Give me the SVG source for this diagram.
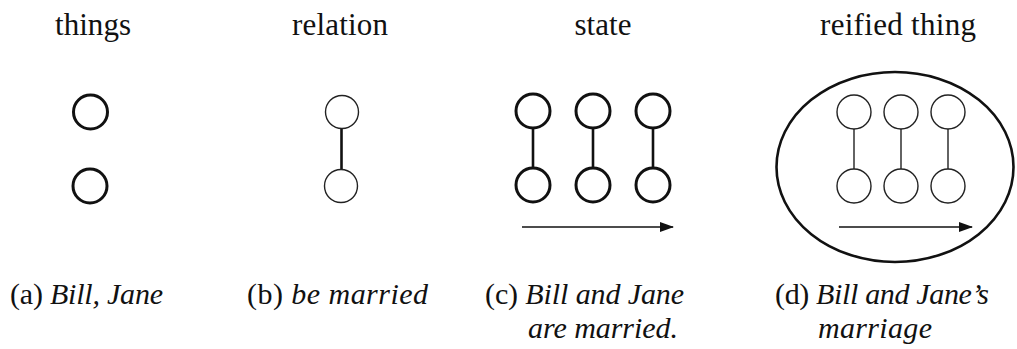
<svg xmlns="http://www.w3.org/2000/svg" width="1017" height="349" viewBox="0 0 1017 349">
<style>
text{font-family:"Liberation Serif","Times New Roman",serif;fill:#111;font-size:30px}
.t{text-anchor:middle;font-size:31px}
.i{font-style:italic}
.thick{fill:none;stroke:#111;stroke-width:3}
.thin{fill:none;stroke:#222;stroke-width:1.4}
.lk{stroke:#111;stroke-width:2.6}
.lt{stroke:#222;stroke-width:1.4}
.ar{stroke:#111;stroke-width:1.6;fill:none}
</style>
<defs>
<marker id="ah" markerWidth="14" markerHeight="10" refX="13" refY="5" orient="auto" markerUnits="userSpaceOnUse">
<path d="M0,0 L14,5 L0,10 Z" fill="#111"/>
</marker>
</defs>
<rect width="1017" height="349" fill="#fff"/>
<g id="titles">
<text class="t" x="93" y="35" textLength="76" lengthAdjust="spacing">things</text>
<text class="t" x="340" y="35" textLength="96" lengthAdjust="spacing">relation</text>
<text class="t" x="603" y="35" textLength="57" lengthAdjust="spacing">state</text>
<text class="t" x="898" y="35" textLength="156" lengthAdjust="spacing">reified thing</text>
</g>
<g id="connectors">
<line class="lk" x1="341.5" y1="129" x2="341.5" y2="169"/>
<line class="lk" x1="533" y1="128" x2="533" y2="168"/>
<line class="lk" x1="593" y1="128" x2="593" y2="168"/>
<line class="lk" x1="653" y1="128" x2="653" y2="168"/>
<line class="lt" x1="854" y1="129" x2="854" y2="169"/>
<line class="lt" x1="901" y1="129" x2="901" y2="169"/>
<line class="lt" x1="948" y1="129" x2="948" y2="169"/>
<line class="ar" x1="522" y1="227" x2="673" y2="227" marker-end="url(#ah)"/>
<line class="ar" x1="839" y1="227" x2="972" y2="227" marker-end="url(#ah)"/>
</g>
<g id="a">
<circle class="thick" cx="90.5" cy="112" r="17"/>
<circle class="thick" cx="90" cy="186" r="17"/>
<text x="10" y="304" textLength="153" lengthAdjust="spacing">(a) <tspan class="i">Bill, Jane</tspan></text>
</g>
<g id="b">
<circle class="thin" cx="342" cy="112" r="16.5"/>
<circle class="thin" cx="341" cy="186" r="16.5"/>
<text x="247" y="304" textLength="181" lengthAdjust="spacing">(b) <tspan class="i">be married</tspan></text>
</g>
<g id="c">
<circle class="thick" cx="533" cy="111" r="17"/>
<circle class="thick" cx="593" cy="111" r="17"/>
<circle class="thick" cx="653" cy="111" r="17"/>
<circle class="thick" cx="533" cy="185" r="17"/>
<circle class="thick" cx="593" cy="185" r="17"/>
<circle class="thick" cx="653" cy="185" r="17"/>
<text x="485" y="304" textLength="199" lengthAdjust="spacing">(c) <tspan class="i">Bill and Jane</tspan></text>
<text class="i" x="528" y="338" textLength="150" lengthAdjust="spacing">are married.</text>
</g>
<g id="d">
<ellipse cx="895" cy="167" rx="118.5" ry="95" fill="none" stroke="#111" stroke-width="2.6"/>
<circle class="thin" cx="854" cy="112" r="17"/>
<circle class="thin" cx="901" cy="112" r="17"/>
<circle class="thin" cx="948" cy="112" r="17"/>
<circle class="thin" cx="854" cy="186" r="17"/>
<circle class="thin" cx="901" cy="186" r="17"/>
<circle class="thin" cx="948" cy="186" r="17"/>
<text x="775" y="304" textLength="214" lengthAdjust="spacing">(d) <tspan class="i">Bill and Jane’s</tspan></text>
<text class="i" x="818" y="338" textLength="114" lengthAdjust="spacing">marriage</text>
</g>
</svg>
